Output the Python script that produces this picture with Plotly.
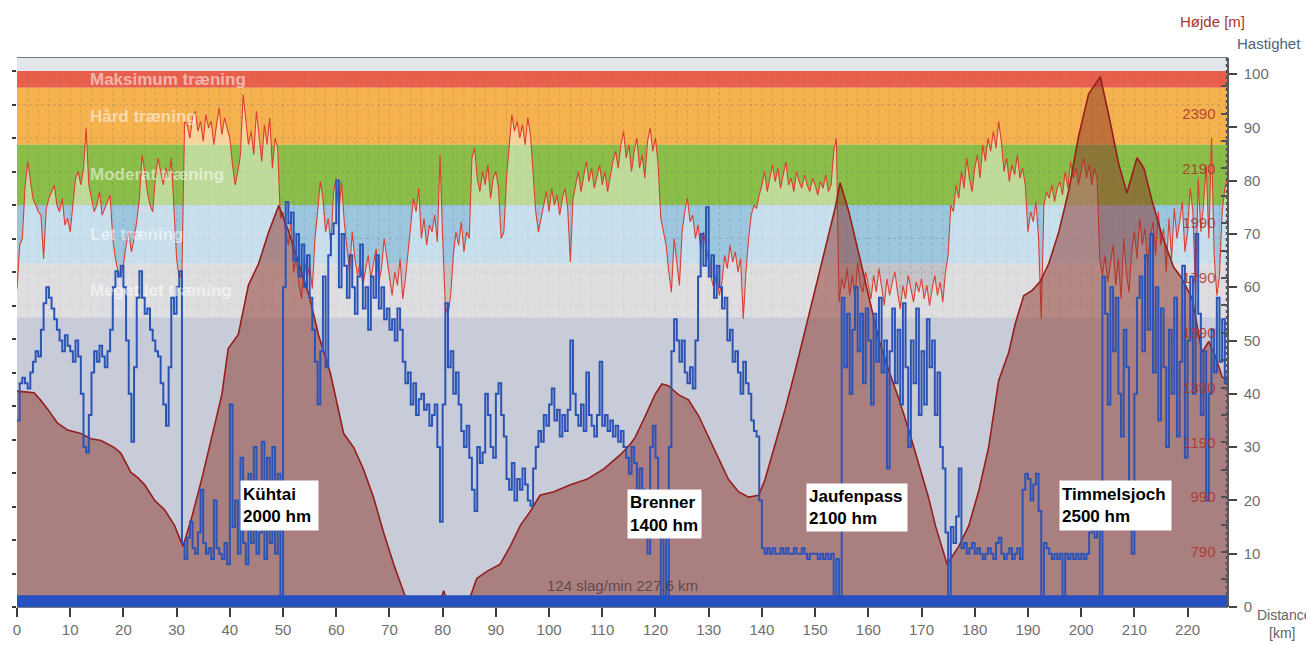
import numpy as np
import plotly.graph_objects as go

# ---------------- data ----------------
km_step = 0.5  # sampling interval of speed / heart-rate series (km)

speed_kmh = [
    35, 42, 43, 42, 41, 44, 46, 48, 47, 52, 57, 60, 58, 56, 54, 52, 50, 48, 51, 49,
    48, 46, 50, 47, 40, 30, 29, 36, 44, 48, 46, 49, 47, 45, 48, 52, 60, 63, 62, 64,
    60, 50, 40, 31, 45, 58, 63, 58, 55, 56, 52, 50, 48, 47, 42, 38, 34, 45, 58, 55,
    60, 63, 12, 9, 13, 16, 11, 10, 14, 22, 12, 10, 11, 9, 20, 11, 10, 9, 12, 8,
    38, 15, 20, 10, 28, 12, 8, 25, 12, 30, 10, 14, 31, 9, 28, 12, 30, 10, 25, 1,
    60, 76, 72, 74, 65, 70, 62, 68, 60, 66, 58, 52, 46, 38, 48, 62, 45, 66, 70, 72,
    80, 60, 70, 64, 58, 66, 60, 55, 62, 68, 56, 60, 52, 62, 58, 66, 56, 60, 54, 56,
    52, 54, 50, 56, 52, 46, 42, 44, 38, 42, 36, 39, 40, 37, 38, 34, 36, 38, 30, 16,
    38, 57, 45, 48, 40, 44, 38, 33, 30, 34, 28, 22, 18, 30, 27, 29, 40, 36, 30, 28,
    40, 42, 36, 32, 24, 22, 27, 20, 24, 22, 26, 23, 20, 19, 26, 30, 33, 31, 36, 34,
    38, 41, 35, 37, 32, 36, 33, 37, 50, 40, 36, 34, 38, 33, 44, 36, 34, 32, 36, 46,
    34, 36, 33, 35, 32, 34, 31, 33, 30, 28, 25, 30, 27, 18, 26, 22, 14, 10, 30, 34,
    28, 20, 1, 16, 1, 30, 48, 54, 50, 46, 50, 44, 42, 45, 41, 50, 62, 70, 64, 75,
    62, 66, 58, 64, 60, 56, 58, 50, 52, 46, 48, 44, 40, 46, 42, 40, 35, 33, 32, 20,
    11, 10, 11, 10, 11, 10, 10, 11, 10, 11, 10, 10, 11, 10, 10, 11, 10, 9, 10, 10,
    10, 9, 10, 9, 10, 9, 10, 1, 9, 1, 58, 45, 55, 40, 52, 60, 48, 55, 42, 56,
    50, 38, 55, 46, 58, 44, 50, 26, 48, 56, 42, 52, 38, 57, 45, 30, 50, 42, 56, 36,
    48, 38, 54, 45, 50, 36, 44, 30, 26, 14, 1, 15, 12, 17, 26, 11, 12, 10, 11, 12,
    10, 11, 10, 9, 10, 11, 10, 9, 12, 13, 10, 9, 10, 11, 9, 10, 11, 9, 22, 25,
    24, 20, 23, 25, 18, 1, 12, 11, 10, 9, 10, 9, 10, 1, 10, 9, 10, 9, 10, 9,
    10, 9, 10, 14, 18, 13, 15, 1, 62, 55, 38, 60, 48, 58, 40, 32, 52, 45, 20, 10,
    40, 58, 62, 48, 66, 52, 70, 44, 60, 35, 56, 45, 30, 52, 40, 58, 32, 46, 64, 28,
    50, 62, 40, 70, 55, 36, 48, 20, 40, 52, 44, 58, 46, 54, 42, 44,
]

heart_rate = [
    95, 108, 110, 125, 133, 128, 122, 120, 118, 117, 104, 119, 122, 124, 126, 120, 118, 122, 114, 116,
    112, 120, 128, 130, 126, 131, 143, 126, 122, 118, 120, 124, 117, 119, 121, 123, 110, 104, 100, 99,
    102, 108, 112, 106, 110, 115, 122, 135, 130, 124, 120, 118, 128, 134, 130, 126, 131, 128, 134, 120,
    104, 98, 100, 145, 144, 140, 146, 148, 142, 145, 139, 147, 143, 145, 138, 144, 149, 141, 146, 143,
    140, 132, 126, 130, 135, 153, 145, 138, 142, 135, 148, 140, 133, 144, 138, 146, 131, 140, 137, 116,
    118, 112, 108, 115, 100, 104, 96, 92, 104, 98, 102, 95, 110, 118, 127, 122, 112, 116, 108, 124,
    128, 118, 127, 115, 108, 100, 112, 104, 99, 103, 96, 100, 105, 98, 102, 107, 97, 101, 110, 104,
    98, 93, 100, 96, 104, 92, 98, 106, 115, 122, 118, 125, 110, 116, 108, 114, 112, 117, 109, 135,
    110, 90, 87, 93, 105, 112, 108, 115, 106, 112, 110, 134, 137, 128, 124, 130, 126, 132, 122, 128,
    130, 125, 110, 112, 128, 137, 147, 142, 145, 140, 144, 138, 146, 141, 130, 118, 112, 116, 120, 124,
    118, 125, 120, 123, 117, 122, 125, 119, 103, 122, 126, 130, 124, 128, 133, 127, 131, 125, 129, 132,
    126, 130, 124, 129, 133, 136, 131, 138, 142, 134, 138, 130, 136, 140, 131, 135, 128, 139, 143, 136,
    140, 132, 116, 112, 108, 100, 94, 110, 103, 96, 112, 118, 122, 115, 117, 110, 114, 107, 112, 108,
    103, 98, 95, 100, 93, 97, 105, 101, 108, 103, 106, 100, 104, 86, 100, 110, 117, 120, 119, 123,
    126, 130, 124, 128, 132, 127, 131, 125, 129, 133, 126, 128, 124, 130, 127, 125, 129, 126, 124, 128,
    126, 123, 127, 125, 129, 124, 126, 136, 140, 91, 98, 95, 101, 93, 99, 92, 103, 96, 94, 100,
    96, 92, 99, 94, 101, 95, 90, 98, 93, 97, 100, 94, 89, 96, 92, 99, 95, 91, 97, 94,
    98, 92, 96, 90, 95, 99, 93, 97, 91, 100, 105, 120, 118, 126, 122, 130, 125, 134, 128, 124,
    131, 135, 128, 138, 133, 140, 136, 142, 137, 145, 139, 130, 134, 127, 132, 129, 135, 128, 131, 126,
    112, 118, 115, 121, 110, 86, 120, 124, 122, 126, 121, 125, 127, 123, 130, 125, 133, 128, 131, 126,
    130, 134, 128, 132, 126, 131, 128, 104, 99, 105, 97, 102, 108, 96, 104, 92, 110, 100, 94, 106,
    112, 104, 116, 108, 113, 102, 110, 115, 105, 118, 108, 113, 100, 116, 104, 119, 110, 115, 121, 106,
    112, 125, 118, 94, 128, 112, 120, 132, 110, 140, 105, 93, 99, 118, 125, 128,
]

elev_km = [
    0, 3.2, 4.4, 5.7, 7.6, 9.5, 12, 13.9, 15.8, 18.3, 19.5, 21.4, 22.7, 24, 25.9, 27.7, 29.6,
    31.2, 32.8, 34.7, 36.6, 38.5, 39.7, 41.6, 43.5, 45.4, 47.3, 49.2, 51.1, 53, 54.9, 56.7,
    58.9, 61.4, 63.3, 65.1, 67, 68.9, 70.8, 72.7, 73.3, 79.5, 80.2, 80.8, 84.9, 86.4, 88.3,
    90.8, 92.7, 94.6, 96.5, 98.3, 100.9, 104, 107.1, 110.3, 113.4, 115.3, 116.2, 118.1,
    119.9, 121.2, 122.4, 124.3, 126.2, 128.1, 130, 131.8, 133.7, 135.6, 137.5, 139.4, 140.6,
    142.5, 144.4, 146.3, 148.1, 150, 151.9, 153.8, 154.7, 156.3, 158.2, 160, 161.9, 163.8,
    165.7, 167.6, 169.4, 171.3, 172.6, 174.8, 177, 178.9, 180.8, 182.6, 184.5, 186.4, 187.6,
    189.2, 190.8, 192.3, 193.9, 195.8, 197.7, 199.5, 201.4, 203.6, 205.2, 207.1, 208.6,
    210.5, 211.8, 213.3, 215.2, 217.4, 218.9, 220.9, 222.7, 224, 225.2, 226.5, 227.6,
]
elev_m = [
    1377, 1371, 1345, 1313, 1261, 1235, 1222, 1203, 1197, 1171, 1151, 1080, 1061, 1035, 977, 945, 887,
    810, 913, 1055, 1209, 1364, 1532, 1584, 1764, 1842, 1958, 2054, 1958, 1842, 1725, 1580,
    1442, 1222, 1171, 1093, 990, 861, 745, 642, 610, 610, 648, 610, 610, 693, 719,
    745, 810, 887, 939, 997, 1010, 1035, 1055, 1093, 1145, 1184, 1209, 1287,
    1364, 1403, 1397, 1364, 1345, 1287, 1209, 1132, 1055, 1010, 990, 997, 1055,
    1184, 1313, 1455, 1596, 1751, 1893, 2048, 2138, 2035, 1880, 1725, 1571, 1455,
    1351, 1235, 1119, 990, 887, 745, 810, 887, 1016, 1171, 1416, 1519, 1622,
    1725, 1745, 1777, 1842, 1958, 2112, 2306, 2461, 2525, 2383, 2203, 2100,
    2229, 2190, 2074, 1945, 1829, 1790, 1713, 1519, 1558, 1506, 1429, 1416,
]

bar_km = [0, 227.6]          # bottom cadence band
bar_level = [2.2, 2.2]

zone_names = ["Maksimum træning", "Hård træning", "Moderat træning", "Let træning", "Meget let træning"]
zone_bounds = [160, 155, 138, 120, 102.5, 86.5]   # heart-rate zone limits

climb_text = ["Kühtai<br>2000 hm", "Brenner<br>1400 hm", "Jaufenpass<br>2100 hm", "Timmelsjoch<br>2500 hm"]
climb_km = [49.4, 121.6, 157.8, 206.5]
climb_speed = [19.1, 17.5, 18.6, 19.1]

summary_text = "124 slag/min 227.6 km"

assert len(speed_kmh) == len(heart_rate) == 456
assert len(elev_km) == len(elev_m)

dist_km = np.arange(len(speed_kmh)) * km_step

# ---------------- styling ----------------
FONT = "Liberation Sans, Arial, sans-serif"
zone_colors = ["rgb(232,96,76)", "rgb(245,178,78)", "rgb(138,190,72)", "rgb(156,197,222)", "rgb(196,196,200)"]
low_color = "rgb(155,162,185)"
top_color = "rgb(227,231,237)"
box_w = [77, 73, 100, 111]
box_h = [49, 48, 47, 49]

# page pixel -> paper coordinate helpers (plot area spans page x 17..1228, y 58..607)
def px(x):
    return (x - 17) / 1211.0

def py(y):
    return (607 - y) / 549.0

fig = go.Figure()

fig.add_trace(go.Scatter(
    x=dist_km, y=heart_rate, mode="lines", line=dict(color="rgb(222,62,50)", width=1.1),
    fill="tozeroy", fillcolor="rgba(255,255,255,0.45)", yaxis="y", hoverinfo="skip", showlegend=False))

fig.add_trace(go.Scatter(
    x=elev_km, y=elev_m, mode="lines", line=dict(color="rgb(150,30,28)", width=1.6),
    fill="tozeroy", fillcolor="rgba(140,50,40,0.50)", yaxis="y2", hoverinfo="skip", showlegend=False))

fig.add_trace(go.Scatter(
    x=dist_km, y=speed_kmh, mode="lines", line=dict(color="rgb(44,84,182)", width=2, shape="hv"),
    yaxis="y3", hoverinfo="skip", showlegend=False))

fig.add_trace(go.Scatter(
    x=bar_km, y=bar_level, mode="lines", line=dict(width=0, color="rgb(38,80,192)"),
    fill="tozeroy", fillcolor="rgb(38,80,192)", yaxis="y3", hoverinfo="skip", showlegend=False))

shapes = []
shapes.append(dict(type="rect", xref="paper", yref="y", x0=0, x1=1, y0=0, y1=zone_bounds[-1],
                   fillcolor=low_color, line=dict(width=0), layer="below"))
for i, col in enumerate(zone_colors):
    shapes.append(dict(type="rect", xref="paper", yref="y", x0=0, x1=1,
                       y0=zone_bounds[i + 1], y1=zone_bounds[i],
                       fillcolor=col, line=dict(width=0), layer="below"))
for gx in range(2, 228, 2):
    shapes.append(dict(type="line", xref="x", yref="y", x0=gx, x1=gx, y0=zone_bounds[-1], y1=zone_bounds[0],
                       line=dict(color="rgba(110,110,110,0.28)", width=1, dash="dot"), layer="below"))
for gy in range(90, 160, 10):
    shapes.append(dict(type="line", xref="paper", yref="y", x0=0, x1=1, y0=gy, y1=gy,
                       line=dict(color="rgba(110,110,110,0.28)", width=1, dash="dot"), layer="below"))
shapes.append(dict(type="line", xref="paper", yref="paper", x0=px(1226.5), x1=px(1226.5), y0=0, y1=1,
                   line=dict(color="rgb(80,80,100)", width=1.5, dash="dot"), layer="above"))

annotations = []
for i, name in enumerate(zone_names):
    annotations.append(dict(x=px(88), xref="paper", y=(zone_bounds[i] + zone_bounds[i + 1]) / 2, yref="y",
                            text="<b>%s</b>" % name, showarrow=False, xanchor="left", yanchor="middle",
                            font=dict(family=FONT, size=17, color="rgba(255,255,255,0.55)")))
for i, t in enumerate(climb_text):
    annotations.append(dict(x=climb_km[i], xref="x", y=climb_speed[i], yref="y3", text="<b>%s</b>" % t,
                            showarrow=False, xanchor="center", yanchor="middle", align="left",
                            width=box_w[i] - 4, height=box_h[i] - 4, borderpad=2, bgcolor="white",
                            font=dict(family=FONT, size=17, color="black")))
annotations.append(dict(x=113.8, xref="x", y=4.1, yref="y3", text=summary_text, showarrow=False,
                        font=dict(family=FONT, size=15, color="rgba(70,55,55,0.75)")))
annotations += [
    dict(x=px(1178), y=py(22), xref="paper", yref="paper", text="Højde [m]",
         showarrow=False, xanchor="left", yanchor="middle", font=dict(family=FONT, size=15, color="rgb(165,55,45)")),
    dict(x=px(1235), y=py(44), xref="paper", yref="paper", text="Hastighet",
         showarrow=False, xanchor="left", yanchor="middle", font=dict(family=FONT, size=15, color="rgb(78,98,125)")),
    dict(x=px(1255), y=py(615), xref="paper", yref="paper", text="Distance",
         showarrow=False, xanchor="left", yanchor="middle", font=dict(family=FONT, size=14, color="rgb(100,100,100)")),
    dict(x=px(1267), y=py(633), xref="paper", yref="paper", text="[km]",
         showarrow=False, xanchor="left", yanchor="middle", font=dict(family=FONT, size=14, color="rgb(100,100,100)")),
]

# The page body adds an 8px margin, so the figure is 8px smaller and margins are shifted.
fig.update_layout(
    width=1306, height=637,
    margin=dict(l=9, r=86, t=50, b=38, autoexpand=False),
    paper_bgcolor="white", plot_bgcolor=top_color,
    font=dict(family=FONT, size=15, color="rgb(110,110,110)"),
    showlegend=False,
    shapes=shapes, annotations=annotations,
    xaxis=dict(range=[0, 227.6], tickmode="array", tickvals=list(range(0, 230, 10)),
               ticks="outside", ticklen=9, tickwidth=2, tickcolor="rgb(60,60,60)",
               tickfont=dict(size=15, color="rgb(110,110,110)"), showgrid=False, zeroline=False,
               showline=True, mirror=True, linecolor="rgb(120,120,120)", linewidth=1),
    yaxis=dict(range=[0, 163.9], tickmode="array", tickvals=list(range(0, 170, 10)),
               ticks="outside", ticklen=4, tickwidth=2, tickcolor="rgb(60,60,60)",
               showticklabels=False, showgrid=False, zeroline=False, showline=False),
    yaxis2=dict(range=[589, 2593], overlaying="y", side="left", anchor="free", position=px(1226.5),
                tickmode="array", tickvals=list(range(790, 2400, 200)),
                ticks="outside", ticklen=6, tickwidth=1.5, tickcolor="rgb(80,80,90)",
                ticklabelstandoff=2,
                minor=dict(tickmode="array", tickvals=list(range(690, 2600, 200)), ticks="outside",
                           ticklen=6, tickwidth=1.5, tickcolor="rgb(80,80,90)"),
                tickfont=dict(size=15, color="rgba(170,50,40,0.85)"),
                showgrid=False, zeroline=False, showline=False),
    yaxis3=dict(range=[0, 103], overlaying="y", side="right", anchor="free", position=1,
                tickmode="array", tickvals=list(range(0, 110, 10)),
                ticks="outside", ticklen=8, tickwidth=2, tickcolor="rgb(70,70,70)",
                tickfont=dict(size=15, color="rgb(110,110,110)"), ticklabelstandoff=4,
                showgrid=False, zeroline=False, showline=True, linecolor="rgb(90,90,90)", linewidth=1.5),
)

fig.write_html("out.html")
